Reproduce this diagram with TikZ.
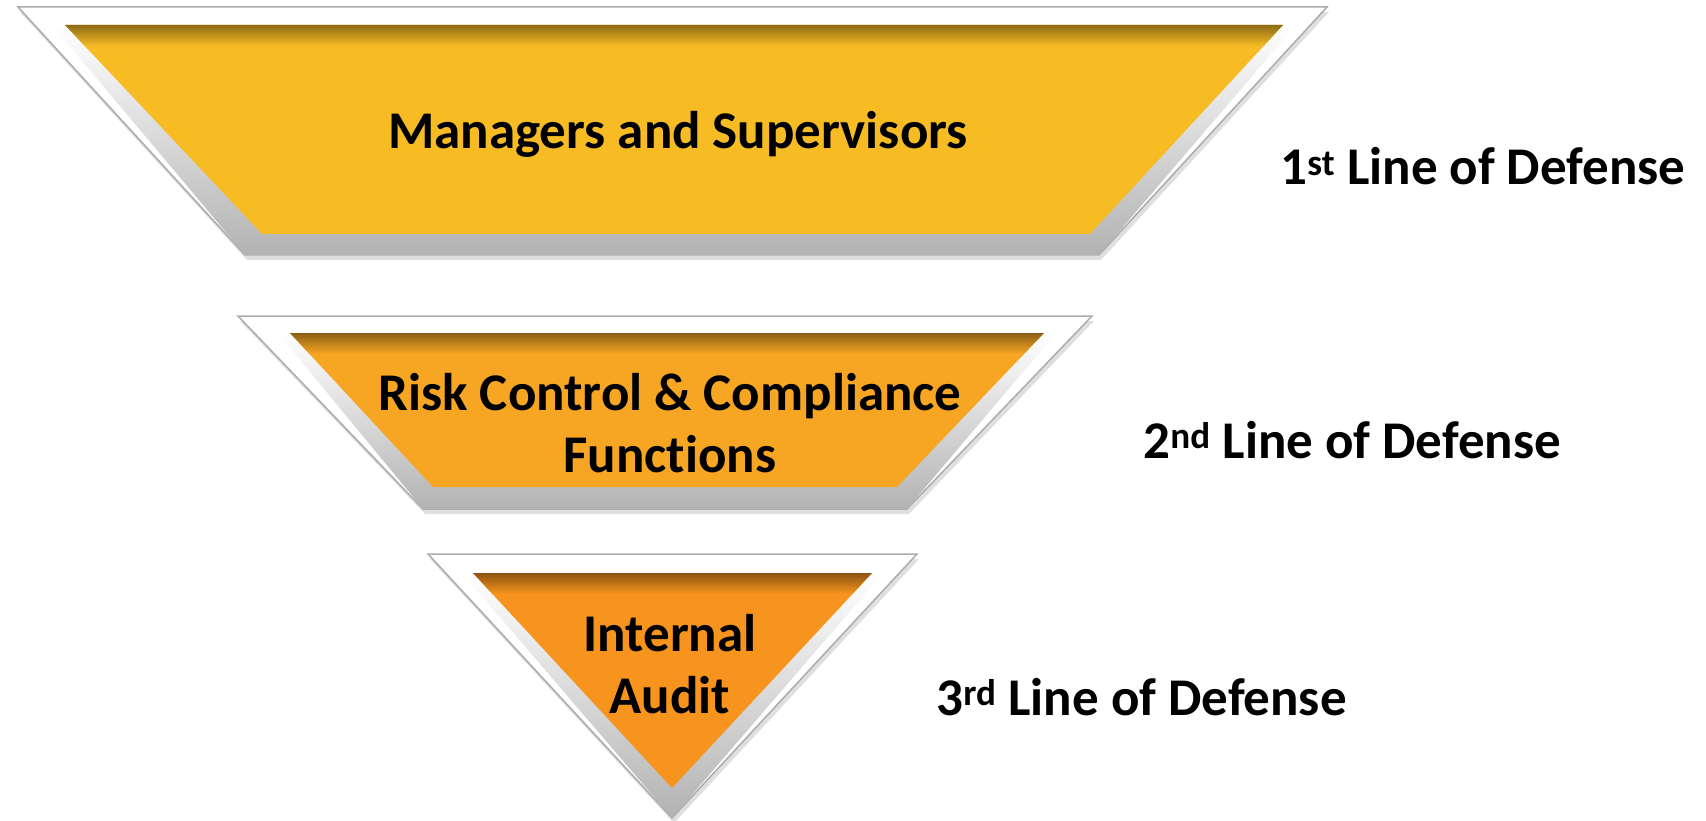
\documentclass[tikz,border=0pt]{standalone}
\usepackage{fontspec}
\setmainfont{Carlito}[Ligatures=NoCommon]
\usepackage{xcolor}
\usepackage{tikz}
\usetikzlibrary{shadows}

\definecolor{goldA}{HTML}{F7BC24}
\definecolor{goldB}{HTML}{F6A623}
\definecolor{goldC}{HTML}{F7941D}

\begin{document}
\begin{tikzpicture}[x=1pt, y=-1pt,
    frame/.style={fill=white, draw=gray!65, line width=1.5pt,
        drop shadow={opacity=0.25, shadow xshift=2pt, shadow yshift=-5pt}},
    bevel/.style={top color=white, bottom color=gray!60},
    title/.style={font=\bfseries\fontsize{53}{62}\selectfont, align=center},
    level/.style={font=\bfseries\fontsize{53}{60}\selectfont, anchor=base west}]
    \useasboundingbox (0, 0) rectangle (1706, 821);

    % first level
    \draw[frame] (18, 7) -- (1327, 7) -- (1099, 255) -- (245, 255) -- cycle;
    \shade[bevel] (52, 25) -- (1296, 25) -- (1099, 255) -- (245, 255) -- cycle;
    \fill[goldA] (65, 25) -- (1283, 25) -- (1090, 234) -- (262, 234) -- cycle;
    \begin{scope}
        \clip (65, 25) -- (1283, 25) -- (1090, 234) -- (262, 234) -- cycle;
        \shade[top color=goldA!55!black, bottom color=goldA] (0, 24) rectangle (1706, 46);
    \end{scope}

    % second level
    \draw[frame] (238, 316) -- (1092, 316) -- (907, 509) -- (423, 509) -- cycle;
    \shade[bevel] (278, 333) -- (1056, 333) -- (907, 509) -- (423, 509) -- cycle;
    \fill[goldB] (290, 333) -- (1044, 333) -- (897, 487) -- (433, 487) -- cycle;
    \begin{scope}
        \clip (290, 333) -- (1044, 333) -- (897, 487) -- (433, 487) -- cycle;
        \shade[top color=goldB!55!black, bottom color=goldB] (0, 332) rectangle (1706, 354);
    \end{scope}

    % third level
    \draw[frame] (428, 554) -- (917, 554) -- (672, 818) -- cycle;
    \shade[bevel] (462, 573) -- (883, 573) -- (672, 818) -- cycle;
    \fill[goldC] (473, 573) -- (872, 573) -- (672, 788) -- cycle;
    \begin{scope}
        \clip (473, 573) -- (872, 573) -- (672, 788) -- cycle;
        \shade[top color=goldC!55!black, bottom color=goldC] (0, 572) rectangle (1706, 594);
    \end{scope}

    \node[title] (managers) at (678, 134) {Managers and Supervisors};
    \node[title] (risk) at (670, 423) {Risk Control \& Compliance\\Functions};
    \node[title] (audit) at (670, 664) {Internal\\Audit};

    \node[level] (first) at (1277, 185) {1\textsuperscript{st} Line of Defense};
    \node[level] (second) at (1140, 458) {2\textsuperscript{nd} Line of Defense};
    \node[level] (third) at (933, 715) {3\textsuperscript{rd} Line of Defense};
\end{tikzpicture}
\end{document}
